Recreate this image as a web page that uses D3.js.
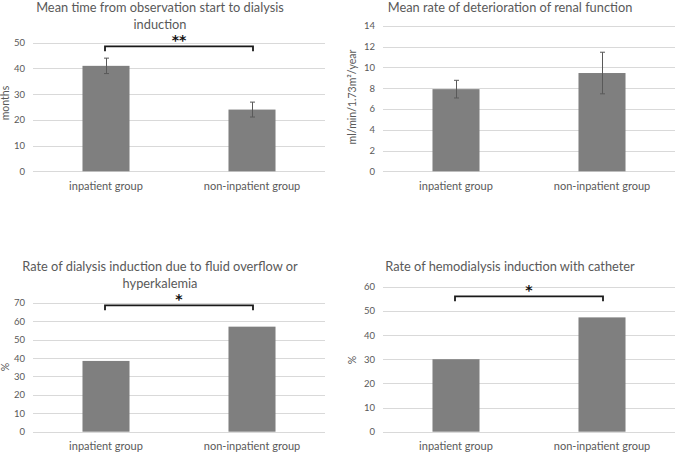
<!DOCTYPE html>
<html>
<head>
<meta charset="utf-8">
<script src="https://cdn.jsdelivr.net/npm/d3@7"></script>
<style>
  body { margin: 0; background: #fff; }
  svg text { font-family: Lato, "Open Sans", sans-serif; }
</style>
</head>
<body>
<svg id="chart" width="676" height="454"></svg>
<script>
// categories shared by all four panels
const groups = ['inpatient group', 'non-inpatient group'];

// panel A: mean time to dialysis induction (months)
const monthsMean = [41, 24];
const monthsErr = [3, 2.9];
const monthsTicks = [0, 10, 20, 30, 40, 50];

// panel B: decline of renal function (ml/min/1.73m2/year)
const declineMean = [7.9, 9.45];
const declineErr = [0.85, 2.0];
const declineTicks = [0, 2, 4, 6, 8, 10, 12, 14];

// panel C: induction due to fluid overflow / hyperkalemia (%)
const fluidRate = [38.4, 57.0];
const fluidTicks = [0, 10, 20, 30, 40, 50, 60, 70];

// panel D: hemodialysis induction with catheter (%)
const catheterRate = [30, 47.3];
const catheterTicks = [0, 10, 20, 30, 40, 50, 60];

// significance brackets: [value level, label]
const monthsSig = [48.6, '**'];
const fluidSig = [68.6, '*'];
const catheterSig = [56, '*'];

const svg = d3.select('#chart');

function drawPanel(p) {
    const g = svg.append('g');
    const y = d3.scaleLinear()
        .domain([0, d3.max(p.ticks)])
        .range([p.bottom, p.top]);
    const x = d3.scaleBand()
        .domain(groups)
        .range([p.left, p.right])
        .paddingInner(0.678)
        .paddingOuter(0.339);

    // gridlines
    g.selectAll('.grid')
        .data(p.ticks)
        .enter().append('line')
        .attr('x1', p.left)
        .attr('x2', p.right)
        .attr('y1', d => Math.round(y(d)) + 0.5)
        .attr('y2', d => Math.round(y(d)) + 0.5)
        .attr('stroke', '#d9d9d9')
        .attr('stroke-width', 1);

    // y axis labels
    const yAxis = g.append('g')
        .attr('transform', 'translate(' + p.left + ',0)')
        .call(d3.axisLeft(y).tickValues(p.ticks).tickSize(0).tickPadding(8));
    yAxis.select('.domain').remove();
    yAxis.selectAll('text')
        .attr('fill', '#595959')
        .style('font-size', '9.5px');

    // bars
    const data = p.values.map((v, i) => ({ group: groups[i], value: v, err: p.errors ? p.errors[i] : null }));
    g.selectAll('.bar')
        .data(data)
        .enter().append('rect')
        .attr('x', d => x(d.group))
        .attr('width', x.bandwidth())
        .attr('y', d => y(d.value))
        .attr('height', d => y(0) - y(d.value))
        .attr('fill', '#7f7f7f');

    // error bars
    if (p.errors) {
        const eb = g.selectAll('.err')
            .data(data)
            .enter().append('g')
            .attr('stroke', '#595959')
            .attr('stroke-width', 1);
        const cx = d => Math.round(x(d.group) + x.bandwidth() / 2) + 0.5;
        eb.append('line')
            .attr('x1', cx).attr('x2', cx)
            .attr('y1', d => y(d.value + d.err))
            .attr('y2', d => y(d.value - d.err));
        eb.append('line')
            .attr('x1', d => cx(d) - 2.5).attr('x2', d => cx(d) + 2.5)
            .attr('y1', d => y(d.value + d.err))
            .attr('y2', d => y(d.value + d.err));
        eb.append('line')
            .attr('x1', d => cx(d) - 2.5).attr('x2', d => cx(d) + 2.5)
            .attr('y1', d => y(d.value - d.err))
            .attr('y2', d => y(d.value - d.err));
    }

    // x axis labels
    const xAxis = g.append('g')
        .attr('transform', 'translate(0,' + p.bottom + ')')
        .call(d3.axisBottom(x).tickSize(0).tickPadding(11));
    xAxis.select('.domain').remove();
    xAxis.selectAll('text')
        .attr('fill', '#595959')
        .style('font-size', '11px');

    // significance bracket
    if (p.sig) {
        const x1 = x(groups[0]) + x.bandwidth() / 2 - 1;
        const x2 = x(groups[1]) + x.bandwidth() / 2 + 1;
        const yb = y(p.sig[0]);
        g.append('path')
            .attr('d', 'M' + x1 + ',' + (yb + 5) + 'V' + yb + 'H' + x2 + 'V' + (yb + 5))
            .attr('fill', 'none')
            .attr('stroke', '#1a1a1a')
            .attr('stroke-width', 1.8);
        g.append('text')
            .attr('x', (x1 + x2) / 2)
            .attr('y', yb - 1)
            .attr('text-anchor', 'middle')
            .attr('fill', '#111')
            .style('font-family', '"DejaVu Sans", sans-serif')
            .style('font-weight', 'bold')
            .style('font-size', '14px')
            .text(p.sig[1]);
    }

    // title
    const title = g.append('text')
        .attr('text-anchor', 'middle')
        .attr('fill', '#595959')
        .style('font-size', '12.8px');
    p.title.forEach((line, i) => {
        title.append('tspan')
            .attr('x', p.titleX)
            .attr('y', p.titleY + i * 16.5)
            .text(line);
    });

    // y axis title
    g.append('text')
        .attr('transform', 'translate(' + p.yLabelX + ',' + p.yLabelY + ') rotate(-90)')
        .attr('text-anchor', 'middle')
        .attr('fill', '#595959')
        .style('font-size', '10.5px')
        .text(p.yLabel);
}

drawPanel({
    values: monthsMean, errors: monthsErr, ticks: monthsTicks, sig: monthsSig,
    left: 33, right: 325, top: 42.7, bottom: 171.3,
    title: ['Mean time from observation start to dialysis', 'induction'],
    titleX: 160, titleY: 12, yLabel: 'months', yLabelX: 9, yLabelY: 103
});

drawPanel({
    values: declineMean, errors: declineErr, ticks: declineTicks,
    left: 383, right: 675, top: 25.7, bottom: 171.3,
    title: ['Mean rate of deterioration of renal function'],
    titleX: 510, titleY: 12, yLabel: 'ml/min/1.73m\u00b2/year', yLabelX: 356, yLabelY: 97
});

drawPanel({
    values: fluidRate, ticks: fluidTicks, sig: fluidSig,
    left: 33, right: 325, top: 302.7, bottom: 431.7,
    title: ['Rate of dialysis induction due to fluid overflow or', 'hyperkalemia'],
    titleX: 160, titleY: 271, yLabel: '%', yLabelX: 9, yLabelY: 367
});

drawPanel({
    values: catheterRate, ticks: catheterTicks, sig: catheterSig,
    left: 383, right: 675, top: 286.7, bottom: 431.7,
    title: ['Rate of hemodialysis induction with catheter'],
    titleX: 510, titleY: 271, yLabel: '%', yLabelX: 356, yLabelY: 360
});
</script>
</body>
</html>
